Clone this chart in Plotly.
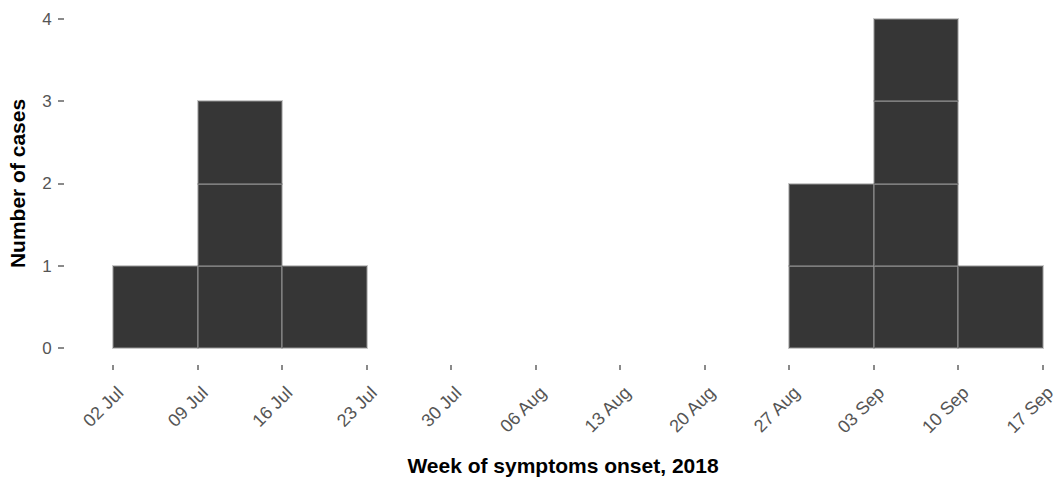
import plotly.graph_objects as go

# ---- data ----
week_starts = ["2018-07-02", "2018-07-09", "2018-07-16", "2018-08-27", "2018-09-03", "2018-09-10"]
case_counts = [1, 3, 1, 2, 4, 1]

tick_dates = ["2018-07-02", "2018-07-09", "2018-07-16", "2018-07-23", "2018-07-30", "2018-08-06",
              "2018-08-13", "2018-08-20", "2018-08-27", "2018-09-03", "2018-09-10", "2018-09-17"]
tick_labels = ["02 Jul", "09 Jul", "16 Jul", "23 Jul", "30 Jul", "06 Aug",
               "13 Aug", "20 Aug", "27 Aug", "03 Sep", "10 Sep", "17 Sep"]
y_ticks = [0, 1, 2, 3, 4]

# one box per case
box_x, box_base = [], []
for w, n in zip(week_starts, case_counts):
    for k in range(n):
        box_x.append(w)
        box_base.append(k)

WEEK_MS = 7 * 24 * 3600 * 1000

fig = go.Figure()
fig.add_trace(go.Bar(
    x=box_x, y=[1] * len(box_x), base=box_base,
    offset=0, width=[WEEK_MS] * len(box_x),
    marker=dict(color="#363636", line=dict(color="rgba(150,150,150,0.5)", width=2)),
    showlegend=False,
))

FONT = "Liberation Sans, Arial, sans-serif"

fig.update_layout(
    width=1061, height=502,
    margin=dict(l=65, r=0, t=2.5, b=137.6, autoexpand=False),
    paper_bgcolor="white", plot_bgcolor="white",
    font=dict(family=FONT, color="#4d4d4d", size=18),
    bargap=0,
    xaxis=dict(
        type="date",
        range=["2018-06-28 00:10", "2018-09-18 11:45"],
        tickvals=tick_dates, ticktext=tick_labels, tickangle=-45,
        ticks="outside", ticklen=5, tickcolor="#8a8a8a", tickwidth=1.5,
        ticklabelshift=5, ticklabelstandoff=5, ticklabeloverflow="allow",
        showgrid=False, zeroline=False, showline=False, automargin=False,
        tickfont=dict(family=FONT, size=18, color="#555555"),
        title=dict(text="<b>Week of symptoms onset, 2018</b>",
                   font=dict(family=FONT, size=21, color="black"), standoff=22),
    ),
    yaxis=dict(
        range=[-0.2, 4.2],
        tickvals=y_ticks,
        ticks="outside", ticklen=6, tickcolor="#8a8a8a", tickwidth=1.5,
        ticklabelstandoff=3,
        showgrid=False, zeroline=False, showline=False, automargin=False,
        tickfont=dict(family=FONT, size=17, color="#555555"),
        title=dict(text="<b>Number of cases</b>",
                   font=dict(family=FONT, size=21, color="black"), standoff=10),
    ),
)

fig.write_html("out.html", config={"displayModeBar": False},
               post_script="document.body.style.margin='0';")
